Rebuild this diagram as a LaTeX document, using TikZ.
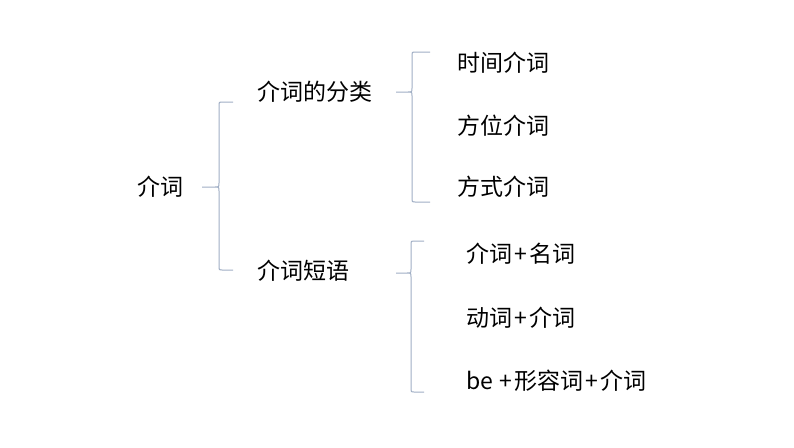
\documentclass[tikz,border=0pt]{standalone}
\usepackage{fontspec}
\setmainfont{Noto Sans CJK SC}
\definecolor{bracec}{RGB}{160,174,196}
\newcommand{\plusw}{\makebox[0.74em]{+}}
\begin{document}
\begin{tikzpicture}[x=1pt,y=-1pt,
  lbl/.style={anchor=west,inner sep=0pt,font=\fontsize{23}{26}\selectfont},
  brace/.style={draw=bracec,line width=1pt}]
\useasboundingbox (0,0) rectangle (794,447);
% texts
\node[lbl] (root) at (137,187) {介词};
\node[lbl] (a) at (257,92) {介词的分类};
\node[lbl] (b) at (257,271) {介词短语};
\node[lbl] (a1) at (457,63) {时间介词};
\node[lbl] (a2) at (457,126) {方位介词};
\node[lbl] (a3) at (457,187) {方式介词};
\node[lbl] (b1) at (466,254) {介词\plusw 名词};
\node[lbl] (b2) at (466,318) {动词\plusw 介词};
\node[lbl] (b3) at (466,381) {be\hspace{0.2em}\plusw 形容词\plusw 介词};
% braces
\coordinate (t1) at (233,102); \coordinate (m1) at (202,187); \coordinate (e1) at (233,270);
\draw[brace] (t1) -- (222,102) .. controls (219,102) .. (219,105) -- (219,183)
  .. controls (219,187) .. (215,187) -- (m1) (215,187) .. controls (219,187) .. (219,191)
  -- (219,267) .. controls (219,270) .. (222,270) -- (e1);
\coordinate (t2) at (430,52); \coordinate (m2) at (396,92); \coordinate (e2) at (430,202);
\draw[brace] (t2) -- (415,52) .. controls (412,52) .. (412,55) -- (412,88)
  .. controls (412,92) .. (408,92) -- (m2) (408,92) .. controls (412,92) .. (412,96)
  -- (412,199) .. controls (412,202) .. (415,202) -- (e2);
\coordinate (t3) at (424,241); \coordinate (m3) at (396,273); \coordinate (e3) at (424,392);
\draw[brace] (t3) -- (414,241) .. controls (411,241) .. (411,244) -- (411,269)
  .. controls (411,273) .. (407,273) -- (m3) (407,273) .. controls (411,273) .. (411,277)
  -- (411,389) .. controls (411,392) .. (414,392) -- (e3);
\end{tikzpicture}
\end{document}
